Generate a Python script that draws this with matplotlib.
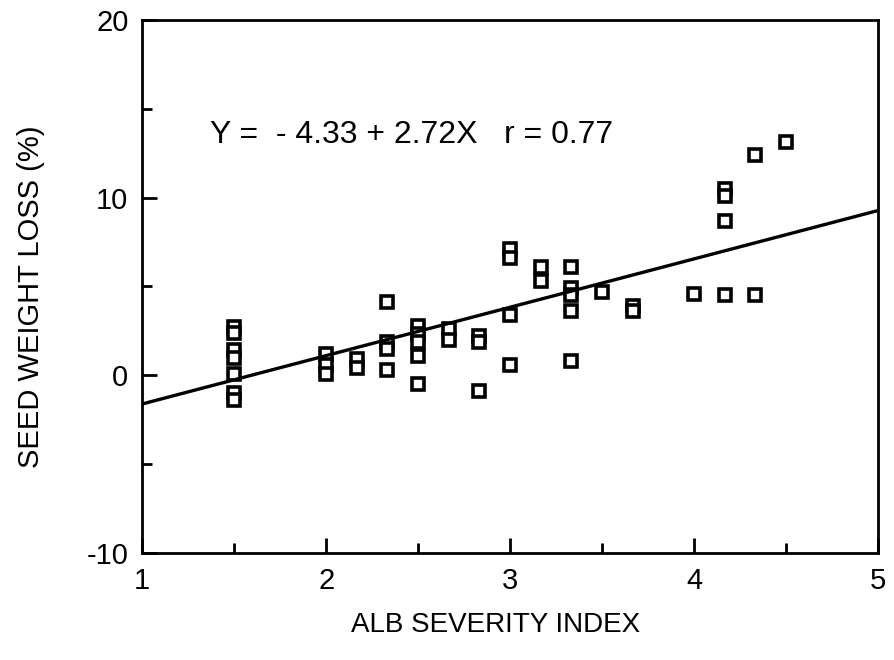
import numpy as np
import matplotlib.pyplot as plt

plt.rcParams['font.family'] = ['Liberation Sans', 'DejaVu Sans']
plt.rcParams['axes.unicode_minus'] = False

# ALB severity index (x) and seed weight loss % (y)
severity = [1.5, 1.5, 1.5, 1.5, 1.5, 1.5, 1.5,
            2.0, 2.0, 2.0,
            2.17, 2.17,
            2.33, 2.33, 2.33, 2.33,
            2.5, 2.5, 2.5, 2.5, 2.5,
            2.67, 2.67,
            2.83, 2.83, 2.83,
            3.0, 3.0, 3.0, 3.0,
            3.17, 3.17,
            3.33, 3.33, 3.33, 3.33, 3.33,
            3.5,
            3.67, 3.67,
            4.0,
            4.17, 4.17, 4.17, 4.17,
            4.33, 4.33,
            4.5]
weight_loss = [2.7, 2.4, 1.4, 1.0, 0.05, -1.0, -1.4,
               1.2, 0.6, 0.1,
               0.9, 0.4,
               4.1, 1.9, 1.5, 0.3,
               2.8, 2.3, 1.9, 1.1, -0.5,
               2.6, 2.0,
               2.2, 1.9, -0.9,
               7.1, 6.6, 3.4, 0.6,
               6.1, 5.3,
               6.1, 4.9, 4.5, 3.6, 0.8,
               4.7,
               3.9, 3.6,
               4.6,
               10.5, 10.1, 8.7, 4.5,
               12.4, 4.5,
               13.1]

intercept = -4.33
slope = 2.72

fig = plt.figure(figsize=(8.95, 6.6), dpi=100)
ax = fig.add_axes([0.159, 0.162, 0.822, 0.808])

ax.plot(severity, weight_loss, linestyle='none', marker='s', markersize=9,
        markerfacecolor='white', markeredgecolor='black', markeredgewidth=2.6)

xl = np.array([1, 5])
ax.plot(xl, intercept + slope * xl, color='black', linewidth=2.4)

ax.text(1.37, 13.5, "Y =  - 4.33 + 2.72X   r = 0.77", fontsize=23, va='center')

ax.set_xlim(1, 5)
ax.set_ylim(-10, 20)
ax.set_xticks([1, 2, 3, 4, 5])
ax.set_xticks([1.5, 2.5, 3.5, 4.5], minor=True)
ax.set_yticks([-10, 0, 10, 20])
ax.set_yticks([-5, 5, 15], minor=True)

ax.tick_params(which='both', direction='in', width=2, labelsize=21, top=False, right=False)
ax.tick_params(which='major', length=11)
ax.tick_params(which='minor', length=7)
ax.tick_params(axis='x', pad=10)
ax.tick_params(axis='y', pad=10)

for s in ax.spines.values():
    s.set_linewidth(2)

ax.set_xlabel("ALB SEVERITY INDEX", fontsize=20)
ax.set_ylabel("SEED WEIGHT LOSS (%)", fontsize=21)
ax.xaxis.set_label_coords(0.48, -0.11)
ax.yaxis.set_label_coords(-0.132, 0.48)

plt.savefig("out.png", dpi=100)
